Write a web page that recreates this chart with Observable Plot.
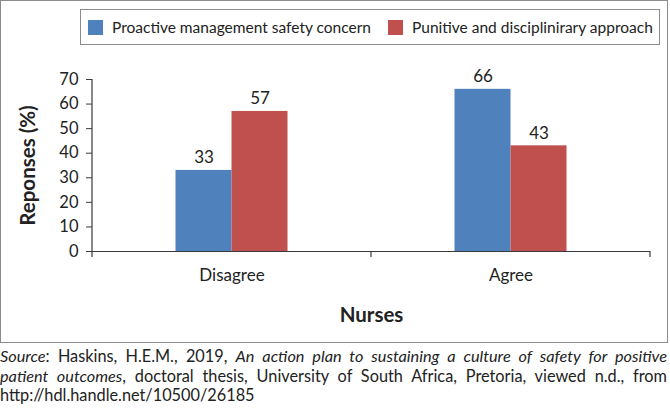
<!DOCTYPE html>
<html><head><meta charset="utf-8">
<script src="https://cdn.jsdelivr.net/npm/d3@7"></script>
<script src="https://cdn.jsdelivr.net/npm/@observablehq/plot@0.6"></script>
<style>
body{margin:0;background:#fff;font-family:Lato,sans-serif;}
#wrap{position:relative;width:670px;height:410px;}
#box{position:absolute;left:0;top:0;width:668px;height:343px;border:1.5px solid #8c8c8c;box-sizing:border-box;}
#chart{position:absolute;left:0;top:0;}
#legend{position:absolute;left:80px;top:9px;width:580px;height:36px;border:1px solid #8c8c8c;box-sizing:border-box;font-size:15.5px;color:#222;background:#fff;}
.item{position:absolute;top:0;height:34px;display:flex;align-items:center;white-space:nowrap;}
.sw{display:inline-block;width:15px;height:15px;margin-right:9px;}
#caption{position:absolute;left:0;top:346px;width:667px;font-size:16.3px;line-height:19.5px;color:#222;}
.j{text-align:justify;text-align-last:justify;white-space:nowrap;}
</style></head>
<body>
<div id="wrap">
  <div id="box"></div>
  <div id="chart"></div>
  <div id="legend"></div>
  <div id="caption">
    <div class="j"><i>Source</i>: Haskins, H.E.M., 2019, <i>An action plan to sustaining a culture of safety for positive</i></div>
    <div class="j"><i>patient outcomes</i>, doctoral thesis, University of South Africa, Pretoria, viewed n.d., from</div>
    <div>http://hdl.handle.net/10500/26185</div>
  </div>
</div>
<script>
const categories = ["Disagree", "Agree"];
const seriesNames = ["Proactive management safety concern", "Punitive and disciplinirary approach"];
const proactive = [33, 66];
const punitive = [57, 43];
const yTicks = [0, 10, 20, 30, 40, 50, 60, 70];
const colors = ["#4F81BD", "#C0504D"];

const rows = [];
categories.forEach((c, i) => {
  rows.push({category: c, series: seriesNames[0], value: proactive[i]});
  rows.push({category: c, series: seriesNames[1], value: punitive[i]});
});

const W = 668, H = 343, mL = 92, mR = 18, mT = 79, mB = 92;
const bw = (W - mL - mR) / categories.length;
const barW = 56;

function catTicks(index, scales, values, dims) {
  const x = scales.x, y = scales.y;
  const b = x.bandwidth ? x.bandwidth() : 0;
  const y0 = y(0);
  const g = d3.create("svg:g").attr("stroke", "#3a3a3a").attr("stroke-width", 1.2);
  g.append("line").attr("x1", dims.marginLeft).attr("x2", dims.marginLeft)
    .attr("y1", y(d3.max(yTicks))).attr("y2", y0 + 6);
  categories.forEach(c => {
    const xr = x(c) + b;
    g.append("line").attr("x1", xr).attr("x2", xr).attr("y1", y0).attr("y2", y0 + 6);
  });
  return g.node();
}

const s0 = rows.filter(d => d.series === seriesNames[0]);
const s1 = rows.filter(d => d.series === seriesNames[1]);

const plot = Plot.plot({
  width: W, height: H,
  marginLeft: mL, marginRight: mR, marginTop: mT, marginBottom: mB,
  style: {fontFamily: "Lato, sans-serif", fontSize: "16px", color: "#222", background: "transparent", overflow: "visible"},
  x: {domain: categories, padding: 0},
  y: {domain: [0, 70]},
  marks: [
    Plot.barY(s0, {x: "category", y: "value", fill: colors[0], insetLeft: bw / 2 - barW, insetRight: bw / 2}),
    Plot.barY(s1, {x: "category", y: "value", fill: colors[1], insetLeft: bw / 2, insetRight: bw / 2 - barW}),
    Plot.text(s0, {x: "category", y: "value", text: d => String(d.value), dx: -barW / 2, dy: -7, lineAnchor: "bottom", fontSize: 17, fill: "#222"}),
    Plot.text(s1, {x: "category", y: "value", text: d => String(d.value), dx: barW / 2, dy: -7, lineAnchor: "bottom", fontSize: 17, fill: "#222"}),
    Plot.ruleY([0], {stroke: "#3a3a3a", strokeWidth: 1.2}),
    catTicks,
    Plot.axisY({ticks: yTicks, tickSize: 6, tickPadding: 8, fontSize: 16.5, label: null, stroke: "#3a3a3a"}),
    Plot.axisY({ticks: [], tickSize: 0, label: "Reponses (%)", labelAnchor: "center", labelArrow: "none", labelOffset: 72, fontSize: 20.5, fontWeight: "bold"}),
    Plot.axisX({tickSize: 0, tickPadding: 17, fontSize: 17, label: null}),
    Plot.axisX({ticks: [], tickSize: 0, label: "Nurses", labelAnchor: "center", labelArrow: "none", labelOffset: 70, fontSize: 20.5, fontWeight: "bold"})
  ]
});
document.getElementById("chart").appendChild(plot);

const legend = document.getElementById("legend");
const lefts = [7, 307];
seriesNames.forEach((n, i) => {
  const it = document.createElement("div");
  it.className = "item";
  it.style.left = lefts[i] + "px";
  const sw = document.createElement("span");
  sw.className = "sw";
  sw.style.background = colors[i];
  it.appendChild(sw);
  it.appendChild(document.createTextNode(n));
  legend.appendChild(it);
});
</script>
</body></html>
